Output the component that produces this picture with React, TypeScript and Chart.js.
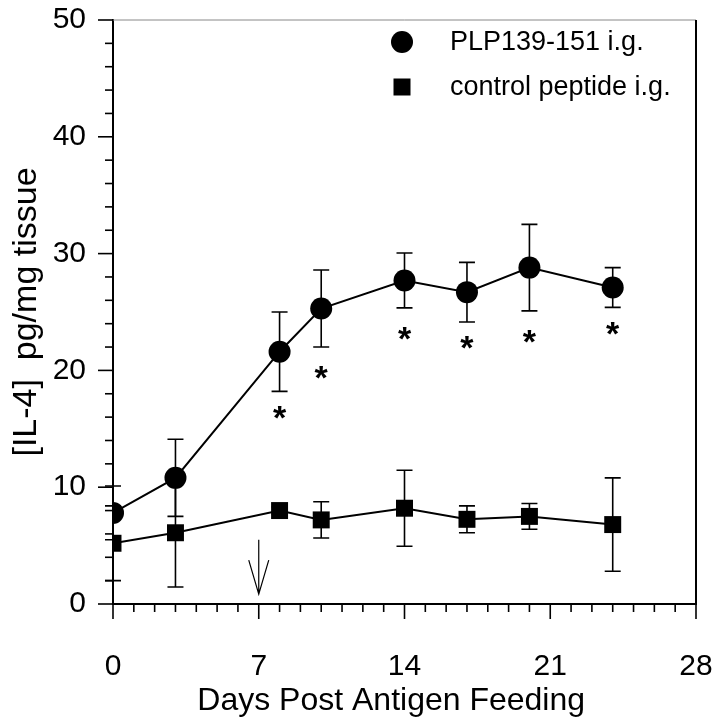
import React, { useEffect, useRef } from 'react';
import { Chart, registerables } from 'chart.js';

Chart.register(...registerables);

const days = [0, 3, 8, 10, 14, 17, 20, 24];
const plpMean = [7.8, 10.8, 21.6, 25.3, 27.7, 26.7, 28.8, 27.1];
const plpErr = [2.3, 3.3, 3.4, 3.3, 2.35, 2.55, 3.7, 1.7];
const ctrlMean = [5.2, 6.1, 8.0, 7.2, 8.2, 7.25, 7.5, 6.8];
const ctrlErr = [3.2, 4.65, 0.3, 1.55, 3.25, 1.15, 1.1, 4.0];
const starDays = [8, 10, 14, 17, 20, 24];
const starLevels = [16.4, 19.8, 23.2, 22.4, 22.9, 23.6];
const arrowDay = 7;
const arrowFrom = 5.5;
const arrowTo = 0.85;
const xMajorTicks = [0, 7, 14, 21, 28];
const yMajorTicks = [0, 10, 20, 30, 40, 50];
const seriesLabels = ['PLP139-151 i.g.', 'control peptide i.g.'];
const xTitle = 'Days Post Antigen Feeding   ';
const yTitle = '[IL-4]  pg/mg tissue';

const FONT = '"Liberation Sans", Arial, Helvetica, sans-serif';

const decorPlugin = {
  id: 'decor',
  beforeDatasetsDraw(chart: any) {
    const { ctx, scales } = chart;
    const x = scales.x;
    const y = scales.y;
    ctx.save();
    ctx.strokeStyle = '#000';
    ctx.lineWidth = 1.6;
    const groups: [number[], number[]][] = [
      [plpMean, plpErr],
      [ctrlMean, ctrlErr],
    ];
    groups.forEach(([m, e]) => {
      days.forEach((d, i) => {
        const px = x.getPixelForValue(d);
        const top = y.getPixelForValue(m[i] + e[i]);
        const bot = y.getPixelForValue(m[i] - e[i]);
        ctx.beginPath();
        ctx.moveTo(px, top);
        ctx.lineTo(px, bot);
        ctx.moveTo(px - 8, top);
        ctx.lineTo(px + 8, top);
        ctx.moveTo(px - 8, bot);
        ctx.lineTo(px + 8, bot);
        ctx.stroke();
      });
    });
    ctx.restore();
  },
  afterDraw(chart: any) {
    const { ctx, scales, chartArea } = chart;
    const x = scales.x;
    const y = scales.y;
    ctx.save();
    // frame top and right
    ctx.lineWidth = 1;
    ctx.strokeStyle = '#888';
    ctx.beginPath();
    ctx.moveTo(chartArea.left, chartArea.top);
    ctx.lineTo(chartArea.right, chartArea.top);
    ctx.stroke();
    ctx.strokeStyle = '#000';
    ctx.lineWidth = 2;
    ctx.beginPath();
    ctx.moveTo(chartArea.right, chartArea.top);
    ctx.lineTo(chartArea.right, chartArea.bottom);
    ctx.stroke();

    // tick marks
    ctx.lineWidth = 1.6;
    const by = chartArea.bottom;
    for (let d = 0; d <= 28; d++) {
      const px = x.getPixelForValue(d);
      const major = xMajorTicks.includes(d);
      ctx.beginPath();
      ctx.moveTo(px, by);
      ctx.lineTo(px, by + (major ? 15 : 8));
      ctx.stroke();
    }
    const lx = chartArea.left;
    for (let v = 0; v <= 50; v += 2) {
      const py = y.getPixelForValue(v);
      const major = yMajorTicks.includes(v);
      ctx.beginPath();
      ctx.moveTo(lx, py);
      ctx.lineTo(lx - (major ? 15 : 8), py);
      ctx.stroke();
    }

    // asterisks
    ctx.fillStyle = '#000';
    ctx.font = `bold 34px ${FONT}`;
    ctx.textAlign = 'center';
    ctx.textBaseline = 'alphabetic';
    starDays.forEach((d, i) => {
      const px = x.getPixelForValue(d);
      const py = y.getPixelForValue(starLevels[i]);
      const m = ctx.measureText('*');
      const asc = m.actualBoundingBoxAscent;
      const desc = m.actualBoundingBoxDescent;
      ctx.fillText('*', px, py + (asc - desc) / 2);
    });

    // arrow
    const ax = x.getPixelForValue(arrowDay);
    const ay1 = y.getPixelForValue(arrowFrom);
    const ay2 = y.getPixelForValue(arrowTo);
    ctx.lineWidth = 1.2;
    ctx.beginPath();
    ctx.moveTo(ax, ay1);
    ctx.lineTo(ax, ay2);
    ctx.moveTo(ax - 10, ay2 - 34);
    ctx.lineTo(ax, ay2);
    ctx.lineTo(ax + 10, ay2 - 34);
    ctx.stroke();

    // legend
    ctx.font = `27px ${FONT}`;
    ctx.textAlign = 'left';
    ctx.textBaseline = 'middle';
    const legX = 402;
    const rows = [42, 87];
    ctx.beginPath();
    ctx.arc(legX, rows[0], 11, 0, Math.PI * 2);
    ctx.fill();
    ctx.fillRect(legX - 8.5, rows[1] - 8.5, 17, 17);
    ctx.fillText(chart.data.datasets[0].label, 450, rows[0] + 1);
    ctx.fillText(chart.data.datasets[1].label, 450, rows[1] + 1);
    ctx.restore();
  },
};

export default function App() {
  const ref = useRef<HTMLCanvasElement | null>(null);
  useEffect(() => {
    document.body.style.margin = '0';
    const canvas = ref.current;
    if (!canvas) return;
    const chart = new Chart(canvas, {
      type: 'line',
      data: {
        datasets: [
          {
            label: seriesLabels[0],
            data: days.map((d, i) => ({ x: d, y: plpMean[i] })),
            borderColor: '#000',
            backgroundColor: '#000',
            borderWidth: 2,
            pointStyle: 'circle',
            pointRadius: 11,
            pointBorderWidth: 0,
            tension: 0,
          },
          {
            label: seriesLabels[1],
            data: days.map((d, i) => ({ x: d, y: ctrlMean[i] })),
            borderColor: '#000',
            backgroundColor: '#000',
            borderWidth: 2,
            pointStyle: 'rect',
            pointRadius: 12,
            pointBorderWidth: 0,
            tension: 0,
          },
        ],
      },
      options: {
        responsive: false,
        animation: false,
        devicePixelRatio: 1,
        layout: { padding: { left: 0, right: 18, top: 20, bottom: 0 } },
        plugins: { legend: { display: false }, tooltip: { enabled: false } },
        scales: {
          x: {
            type: 'linear',
            min: 0,
            max: 28,
            afterBuildTicks: (s: any) => {
              s.ticks = xMajorTicks.map((v) => ({ value: v }));
            },
            afterFit: (s: any) => {
              s.height = 116;
            },
            ticks: {
              color: '#000',
              font: { size: 30, family: FONT },
              padding: 0,
              maxRotation: 0,
            },
            grid: {
              display: true,
              drawOnChartArea: false,
              drawTicks: true,
              tickLength: 45,
              tickColor: 'rgba(0,0,0,0)',
            },
            border: { display: true, color: '#000', width: 2 },
            title: {
              display: true,
              text: xTitle,
              color: '#000',
              font: { size: 32, family: FONT },
              padding: { top: 0, bottom: 0 },
            },
          },
          y: {
            type: 'linear',
            min: 0,
            max: 50,
            afterBuildTicks: (s: any) => {
              s.ticks = yMajorTicks.map((v) => ({ value: v }));
            },
            afterFit: (s: any) => {
              s.width = 113;
            },
            ticks: {
              color: '#000',
              font: { size: 30, family: FONT },
              padding: 0,
            },
            grid: {
              display: true,
              drawOnChartArea: false,
              drawTicks: true,
              tickLength: 27,
              tickColor: 'rgba(0,0,0,0)',
            },
            border: { display: true, color: '#000', width: 2 },
            title: {
              display: true,
              text: yTitle,
              color: '#000',
              font: { size: 34, family: FONT },
              padding: { top: 6, bottom: 0 },
            },
          },
        },
      },
      plugins: [decorPlugin],
    });
    return () => chart.destroy();
  }, []);
  return <canvas ref={ref} width={714} height={720} style={{ display: 'block', width: 714, height: 720 }} />;
}
